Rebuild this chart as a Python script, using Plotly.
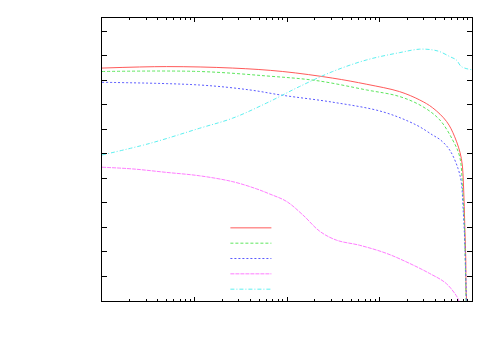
import plotly.graph_objects as go

# log x values and y values for each curve
x_red = [0.1, 0.497, 2.59, 8.99, 31.2, 72.8, 165, 272, 376, 532, 650, 768, 813, 834, 855, 870, 887]
y_red = [9.49, 9.55, 9.49, 9.35, 9.08, 8.83, 8.53, 8.19, 7.87, 7.31, 6.69, 5.80, 4.52, 3.17, 1.80, 0.16, 0.0]

x_green = [0.1, 1.14, 5.98, 20.8, 72.2, 165, 293, 448, 618, 736, 792, 824, 845, 862]
y_green = [9.35, 9.35, 9.17, 8.98, 8.60, 8.33, 7.92, 7.38, 6.56, 5.88, 4.54, 3.29, 1.66, 0.0]

x_blue = [0.1, 1.14, 3.95, 8.99, 31.2, 108, 250, 376, 457, 574, 706, 768, 799, 834, 870]
y_blue = [8.91, 8.80, 8.60, 8.38, 8.10, 7.71, 7.17, 6.76, 6.56, 6.15, 5.40, 4.80, 3.84, 2.48, 0.0]

x_magenta = [0.1, 0.216, 0.497, 1.14, 2.6, 4.67, 6.5, 9.86, 14.9, 22.6, 34.2, 61.1, 119, 212, 349, 528, 706, 718]
y_magenta = [5.45, 5.38, 5.24, 5.10, 4.86, 4.57, 4.36, 4.06, 3.50, 2.84, 2.48, 2.27, 1.94, 1.53, 1.12, 0.71, 0.10, 0.0]

x_cyan = [0.1, 0.328, 1.14, 2.59, 5.98, 13.7, 31.2, 72.2, 165, 272, 376, 448, 574, 678, 768, 1000]
y_cyan = [5.95, 6.42, 7.04, 7.45, 8.06, 8.74, 9.35, 9.82, 10.12, 10.26, 10.23, 10.16, 9.96, 9.82, 9.55, 9.42]

series = [
    (x_red, y_red, "#ff5a5a", "solid"),
    (x_green, y_green, "#5ce65c", "3px,2px"),
    (x_blue, y_blue, "#5a5aff", "2px,2px"),
    (x_magenta, y_magenta, "#ff7cff", "4px,1px"),
    (x_cyan, y_cyan, "#5cf0f0", "4px,2px,1px,2px"),
]

fig = go.Figure()
for xs, ys, col, dash in series:
    fig.add_trace(go.Scatter(x=xs, y=ys, mode="lines", showlegend=False,
                             line=dict(color=col, width=1, dash=dash,
                                       shape="spline", smoothing=1.0)))

# legend keys without text, like the original
shapes = []
for i, (xs, ys, col, dash) in enumerate(series):
    yp = (300.7 - (227.7 + i * 15.3)) / 282.4
    shapes.append(dict(type="line", xref="paper", yref="paper",
                       x0=(230.7 - 102.3) / 370, x1=(271.7 - 102.3) / 370,
                       y0=yp, y1=yp, line=dict(color=col, width=1, dash=dash)))

fig.update_xaxes(type="log", range=[-1, 3], showgrid=False, zeroline=False,
                 showticklabels=False, showline=True, linecolor="black", linewidth=1,
                 mirror="ticks", ticks="inside", ticklen=4, tickcolor="black", dtick=1,
                 minor=dict(ticks="inside", ticklen=2, tickcolor="black", dtick="D1", showgrid=False))
fig.update_yaxes(range=[0, 11.53], showgrid=False, zeroline=False,
                 showticklabels=False, showline=True, linecolor="black", linewidth=1,
                 mirror="ticks", ticks="inside", ticklen=5, tickcolor="black",
                 tick0=0, dtick=1)
# page body adds an 8px offset, so margins are shifted to keep the plot box in place
fig.update_layout(width=500, height=350, margin=dict(l=94, r=36, t=10, b=57),
                  plot_bgcolor="white", paper_bgcolor="white", shapes=shapes)

fig.write_html("out.html")
